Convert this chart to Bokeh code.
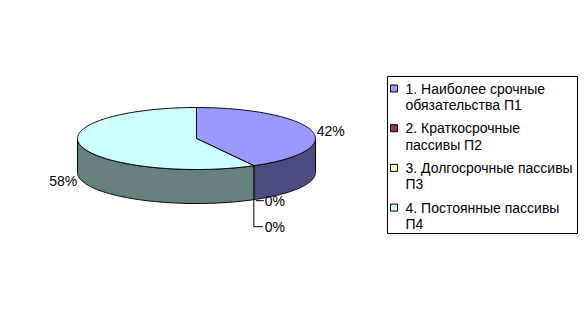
import numpy as np
from bokeh.plotting import figure
from bokeh.models import Range1d
from bokeh.embed import file_html
from bokeh.resources import INLINE
from bokeh.core.properties import value

# ---- data ----
categories = ["1. Наиболее срочные\nобязательства П1",
              "2. Краткосрочные\nпассивы П2",
              "3. Долгосрочные пассивы\nП3",
              "4. Постоянные пассивы\nП4"]
shares = [42, 0, 0, 58]
pct_labels = ["42%", "0%", "0%", "58%"]
top_colors = ["#9999FF", "#993366", "#FFFFCC", "#CCFFFF"]
side_colors = ["#4C4C80", "#4D1A33", "#808066", "#668080"]

W, H = 588, 309
FONT = value("Liberation Sans")
FS = "14px"

p = figure(width=W, height=H, x_range=Range1d(0, W), y_range=Range1d(H, 0),
           output_backend="svg", toolbar_location=None, min_border=0,
           x_axis_location=None, y_axis_location=None)
p.grid.visible = False
p.outline_line_color = None
p.background_fill_color = "white"
p.border_fill_color = "white"

# pie geometry (pixels)
cx, cy, rx, ry, depth = 196.0, 138.0, 119.0, 31.0, 34.0

total = float(sum(shares))
cum = np.concatenate([[0], np.cumsum(shares)]) / total
starts = 90 - cum[:-1] * 360.0
ends = 90 - cum[1:] * 360.0


def pt(t_deg, dz=0.0):
    t = np.radians(t_deg)
    return cx + rx * np.cos(t), cy - ry * np.sin(t) + dz

# side walls (front half: angles in [-180, 0])
sx, sy, sc = [], [], []
for a0, a1, col in zip(starts, ends, side_colors):
    lo, hi = max(a1, -180.0), min(a0, 0.0)
    if hi - lo <= 1e-9:
        continue
    t = np.linspace(lo, hi, 120)
    xt, yt = pt(t)
    xb, yb = pt(t[::-1], depth)
    sx.append(list(xt) + list(xb))
    sy.append(list(yt) + list(yb))
    sc.append(col)
p.patches(sx, sy, fill_color=sc, line_color="black", line_width=1)

# top faces
tx, ty, tc = [], [], []
for a0, a1, col in zip(starts, ends, top_colors):
    if a0 - a1 <= 1e-9:
        continue
    t = np.linspace(a0, a1, 200)
    xa, ya = pt(t)
    tx.append([cx] + list(xa))
    ty.append([cy] + list(ya))
    tc.append(col)
p.patches(tx, ty, fill_color=tc, line_color="black", line_width=1)

# percent labels
zero_k = 0
for a0, a1, s, lab in zip(starts, ends, shares, pct_labels):
    if s > 0:
        mid = (a0 + a1) / 2
        x, y = pt(mid)
        if np.sin(np.radians(mid)) < 0:
            y += depth + 1
        c = np.cos(np.radians(mid))
        if c >= 0:
            p.text([x + 5], [y], text=[lab], text_font=FONT, text_font_size=FS,
                   text_align="left", text_baseline="middle", text_color="black")
        else:
            p.text([x - 4], [y], text=[lab], text_font=FONT, text_font_size=FS,
                   text_align="right", text_baseline="middle", text_color="black")
    else:
        ax, ay = pt(a0, depth)
        ly = ay + 1 + zero_k * 26
        if zero_k == 0:
            p.line([ax + 2, ax + 10], [ly, ly], line_color="black", line_width=1)
        else:
            p.line([ax, ax, ax + 9], [ay, ly, ly], line_color="black", line_width=1)
        p.text([ax + 11], [ly], text=[lab], text_font=FONT, text_font_size=FS,
               text_align="left", text_baseline="middle", text_color="black")
        zero_k += 1

# legend
lx0, lx1, ly0, ly1 = 387, 577, 76, 233
p.quad(left=[lx0], right=[lx1], top=[ly0], bottom=[ly1], fill_color="white",
       line_color="black", line_width=1)
for i, (cat, col) in enumerate(zip(categories, top_colors)):
    y0 = 88 + i * 39.7
    p.rect([393.5], [y0], width=7, height=7, fill_color=col, line_color="black", line_width=1)
    for j, line in enumerate(cat.split("\n")):
        p.text([405], [y0 + j * 16.5], text=[line], text_font=FONT, text_font_size=FS,
               text_align="left", text_baseline="middle", text_color="black")

open("out.html", "w").write(file_html(p, INLINE))
